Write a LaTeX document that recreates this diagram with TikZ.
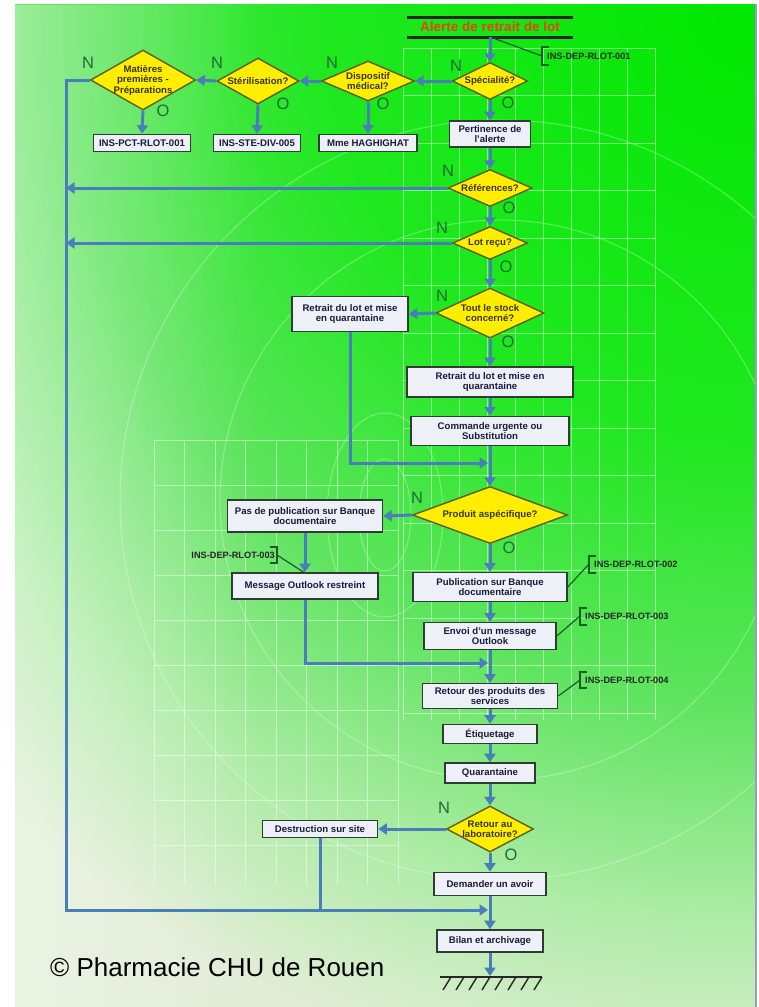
\documentclass[tikz,border=0pt]{standalone}
\usepackage{fontspec}
\setmainfont{Liberation Sans}
\usetikzlibrary{shapes.geometric,arrows.meta,calc,fadings}
\definecolor{flowblue}{HTML}{4A7EBB}
\definecolor{boxline}{HTML}{2E3D33}
\definecolor{boxfill}{HTML}{EEF0F8}
\definecolor{boxtext}{HTML}{1A1A3A}
\definecolor{dialine}{HTML}{5E5E22}
\definecolor{diafill}{HTML}{FFEE00}
\definecolor{diatext}{HTML}{3A3410}
\definecolor{ynGreen}{HTML}{1E6B38}
\definecolor{titleRed}{HTML}{E8401A}
\definecolor{callGreen}{HTML}{1E5A2E}
\definecolor{bgA}{HTML}{00E800}
\definecolor{bgB}{HTML}{20E820}
\definecolor{bgC}{HTML}{60E460}
\definecolor{bgD}{HTML}{B0ECA8}
\definecolor{bgE}{HTML}{E2EDD6}
\definecolor{edgeblue}{HTML}{9A9CC8}
\pgfdeclareradialshading{bgshade}{\pgfpoint{0bp}{0bp}}{color(0bp)=(bgA); color(10bp)=(bgB); color(16bp)=(bgC); color(21bp)=(bgD); color(25bp)=(bgE); color(50bp)=(bgE)}
\tikzset{
  flow/.style={draw=flowblue, line width=3pt},
  arr/.style={flow, -{Triangle[length=8.5pt,width=11pt]}},
  box/.style 2 args={draw=boxline, fill=boxfill, line width=1.6pt, text=boxtext, align=center, inner sep=1pt,
    font=\bfseries\fontsize{9.6}{10.8}\selectfont, minimum width=#1, minimum height=#2},
  dia/.style 2 args={shape=diamond, draw=dialine, fill=diafill, line width=1.4pt, inner sep=0pt,
    minimum width=#1, minimum height=#2},
  dlab/.style={text=diatext, align=center, inner sep=0pt, font=\bfseries\fontsize{9.6}{10.5}\selectfont},
  yn/.style={font=\fontsize{16.5}{16.5}\selectfont, text=ynGreen, inner sep=0pt},
  reftext/.style={font=\bfseries\fontsize{9.2}{10}\selectfont, text=black!85, inner sep=0pt},
  callout/.style={draw=callGreen, line width=1.2pt},
  grid line/.style={draw=white, line width=1pt, opacity=0.45},
  halo/.style={draw=white, line width=1pt, opacity=0.3},
}
\begin{document}
\begin{tikzpicture}[x=1pt,y=-1pt]
\useasboundingbox (0,0) rectangle (759,1007);
\fill[white] (0,0) rectangle (759,1007);
% background
\begin{scope}
  \clip (15,4) rectangle (755,1007);
  \fill[bgE] (15,4) rectangle (755,1007);
  \shade[shading=bgshade] (759,4) circle (1100pt);
  \fill[white, path fading=east, opacity=0.32] (15,4) rectangle (260,1007);
  % faint grids
  \foreach \x in {403,431,...,655} \draw[grid line] (\x,48) -- (\x,720);
  \foreach \y in {48,95.5,...,720} \draw[grid line] (403,\y) -- (655,\y);
  \foreach \x in {154,184.5,...,400} \draw[grid line] (\x,440) -- (\x,885);
  \foreach \y in {440,485,...,885} \draw[grid line] (154,\y) -- (398,\y);
  % faint ellipses and arcs
  \draw[halo] (385,515) ellipse (26pt and 56pt);
  \draw[halo] (385,515) ellipse (58pt and 102pt);
  \draw[halo] (500,500) circle (280pt);
  \draw[halo] (500,500) circle (380pt);
\end{scope}
\draw[edgeblue, line width=2pt] (756,4) -- (756,1007);

% title
\node[font=\bfseries\fontsize{13.5}{13.5}\selectfont, text=titleRed, minimum width=166pt, minimum height=19pt,
  text height=10pt, text depth=3pt, inner sep=0pt] (title) at (490,27.5) {Alerte de retrait de lot};
\draw[line width=3pt, black!85] (title.north west) -- (title.north east);
\draw[line width=3pt, black!85] (title.south west) -- (title.south east);

% top row of decisions
\node[dia={75pt}{37pt}, label={[dlab]center:Spécialité?}] (spec) at (490,81) {};
\node[dia={93pt}{40pt}, label={[dlab]center:{Dispositif\\médical?}}] (disp) at (368,81) {};
\node[dia={82pt}{46pt}, label={[dlab]center:Stérilisation?}] (ster) at (258,81) {};
\node[dia={105pt}{60pt}, label={[dlab]center:{Matières\\premières -\\Préparations}}] (mat) at (143,80) {};

\node[box={97pt}{17pt}] (pct) at (142,143) {INS-PCT-RLOT-001};
\node[box={87pt}{17pt}] (ste) at (257,143) {INS-STE-DIV-005};
\node[box={98pt}{17pt}] (mme) at (368,143) {Mme HAGHIGHAT};

% main column
\node[box={81pt}{26pt}] (pert) at (490,134) {Pertinence de\\l'alerte};
\node[dia={84pt}{37pt}, label={[dlab]center:Références?}] (refd) at (490,188) {};
\node[dia={75pt}{33pt}, label={[dlab]center:Lot reçu?}] (lot) at (490,243) {};
\node[dia={108pt}{50pt}, label={[dlab]center:{Tout le stock\\concerné?}}] (tout) at (490,313) {};
\node[box={116pt}{35pt}] (ret1) at (350,314) {Retrait du lot et mise\\en quarantaine};
\node[box={166pt}{30pt}] (ret2) at (490,382) {Retrait du lot et mise en\\quarantaine};
\node[box={158pt}{29pt}] (cmd) at (490,431) {Commande urgente ou\\Substitution};
\node[dia={155pt}{57pt}, label={[dlab]center:Produit aspécifique?}] (prod) at (490,515) {};
\node[box={155pt}{32pt}] (pas) at (305,516) {Pas de publication sur Banque\\documentaire};
\node[box={146pt}{26pt}] (msg) at (305,586) {Message Outlook restreint};
\node[box={154pt}{29pt}] (pub) at (490,587) {Publication sur Banque\\documentaire};
\node[box={132pt}{27pt}] (env) at (490,636) {Envoi d'un message\\Outlook};
\node[box={135pt}{25pt}] (retp) at (490,696) {Retour des produits des\\services};
\node[box={94pt}{19pt}] (etiq) at (490,734) {Étiquetage};
\node[box={90pt}{20pt}] (quar) at (490,773) {Quarantaine};
\node[dia={87pt}{46pt}, label={[dlab]center:{Retour au\\laboratoire?}}] (retlab) at (490,829) {};
\node[box={115pt}{17pt}] (destr) at (320,829) {Destruction sur site};
\node[box={112pt}{23pt}] (dem) at (490,884) {Demander un avoir};
\node[box={106pt}{22pt}] (bilan) at (490,941) {Bilan et archivage};

% junction coordinates
\coordinate (lx) at (66,80);
\coordinate (j1) at (490,463);
\coordinate (j2) at (490,663);
\coordinate (j3) at (490,910);
\coordinate (gnd) at (490,976);

% flow arrows - main column
\draw[arr] (title.south) -- (spec.north);
\draw[arr] (spec.south) -- (pert.north);
\draw[arr] (pert.south) -- (refd.north);
\draw[arr] (refd.south) -- (lot.north);
\draw[arr] (lot.south) -- (tout.north);
\draw[arr] (tout.south) -- (ret2.north);
\draw[arr] (ret2.south) -- (cmd.north);
\draw[arr] (cmd.south) -- (prod.north);
\draw[arr] (prod.south) -- (pub.north);
\draw[arr] (pub.south) -- (env.north);
\draw[arr] (env.south) -- (retp.north);
\draw[arr] (retp.south) -- (etiq.north);
\draw[arr] (etiq.south) -- (quar.north);
\draw[arr] (quar.south) -- (retlab.north);
\draw[arr] (retlab.south) -- (dem.north);
\draw[arr] (dem.south) -- (bilan.north);
\draw[arr] (bilan.south) -- (gnd);

% top row
\draw[arr] (spec.west) -- (disp.east);
\draw[arr] (disp.west) -- (ster.east);
\draw[arr] (ster.west) -- (mat.east);
\draw[arr] (mat.south) -- (pct.north);
\draw[arr] (ster.south) -- (ste.north);
\draw[arr] (disp.south) -- (mme.north);

% left return line
\draw[arr, shorten >=2pt] (mat.west) -- (lx) -- (lx |- j3) -- (j3);
\draw[arr] (refd.west) -- (refd.west -| lx);
\draw[arr] (lot.west) -- (lot.west -| lx);

% side branches
\draw[arr] (tout.west) -- (ret1.east);
\draw[arr, shorten >=2pt] (ret1.south) |- (j1);
\draw[arr] (prod.west) -- (pas.east);
\draw[arr] (pas.south) -- (msg.north);
\draw[arr, shorten >=2pt] (msg.south) |- (j2);
\draw[arr] (retlab.west) -- (destr.east);
\draw[flow] (destr.south) -- (destr.south |- j3);

% ground symbol
\draw[line width=1.6pt, black!85] (440,977) -- (542,977);
\foreach \x in {451,464,...,542} \draw[line width=1.4pt, black!85] (\x,977) -- (\x-8,990);

% Y/N labels
\node[yn] (nmat) at (88,63) {N};
\node[yn] (omat) at (163,111) {O};
\node[yn] (nster) at (217,63) {N};
\node[yn] (oster) at (283,104) {O};
\node[yn] (ndisp) at (332,63) {N};
\node[yn] (odisp) at (383,104) {O};
\node[yn] (nspec) at (456,66) {N};
\node[yn] (ospec) at (508,103) {O};
\node[yn] (nref) at (448,171) {N};
\node[yn] (oref) at (509,208) {O};
\node[yn] (nlot) at (442,228) {N};
\node[yn] (olot) at (506,267) {O};
\node[yn] (ntout) at (442,296) {N};
\node[yn] (otout) at (508,342) {O};
\node[yn] (nprod) at (417,498) {N};
\node[yn] (oprod) at (509,548) {O};
\node[yn] (nretlab) at (444,808) {N};
\node[yn] (oretlab) at (511,855) {O};

% references (callouts)
\node[reftext, anchor=west] (r001) at (547,56) {INS-DEP-RLOT-001};
\draw[callout] (493,38) -- (542,56);
\draw[callout] (549,47) -- (542,47) -- (542,65) -- (549,65);

\node[reftext, anchor=west] (r002) at (594,564) {INS-DEP-RLOT-002};
\draw[callout] (pub.east) -- (589,564);
\draw[callout] (596,556) -- (589,556) -- (589,573) -- (596,573);

\node[reftext, anchor=west] (r003) at (585,616) {INS-DEP-RLOT-003};
\draw[callout] (env.east) -- (580,616);
\draw[callout] (587,608) -- (580,608) -- (580,625) -- (587,625);

\node[reftext, anchor=west] (r004) at (585,680) {INS-DEP-RLOT-004};
\draw[callout] (retp.east) -- (580,680);
\draw[callout] (587,672) -- (580,672) -- (580,688) -- (587,688);

\node[reftext, anchor=east] (r003b) at (275,555) {INS-DEP-RLOT-003};
\draw[callout] (277,555) -- (305,573);
\draw[callout] (270,547) -- (277,547) -- (277,563) -- (270,563);

% copyright
\node[anchor=base west, font=\fontsize{26}{26}\selectfont, text=black, inner sep=0pt] (copy) at (50,976) {© Pharmacie CHU de Rouen};
\end{tikzpicture}
\end{document}
